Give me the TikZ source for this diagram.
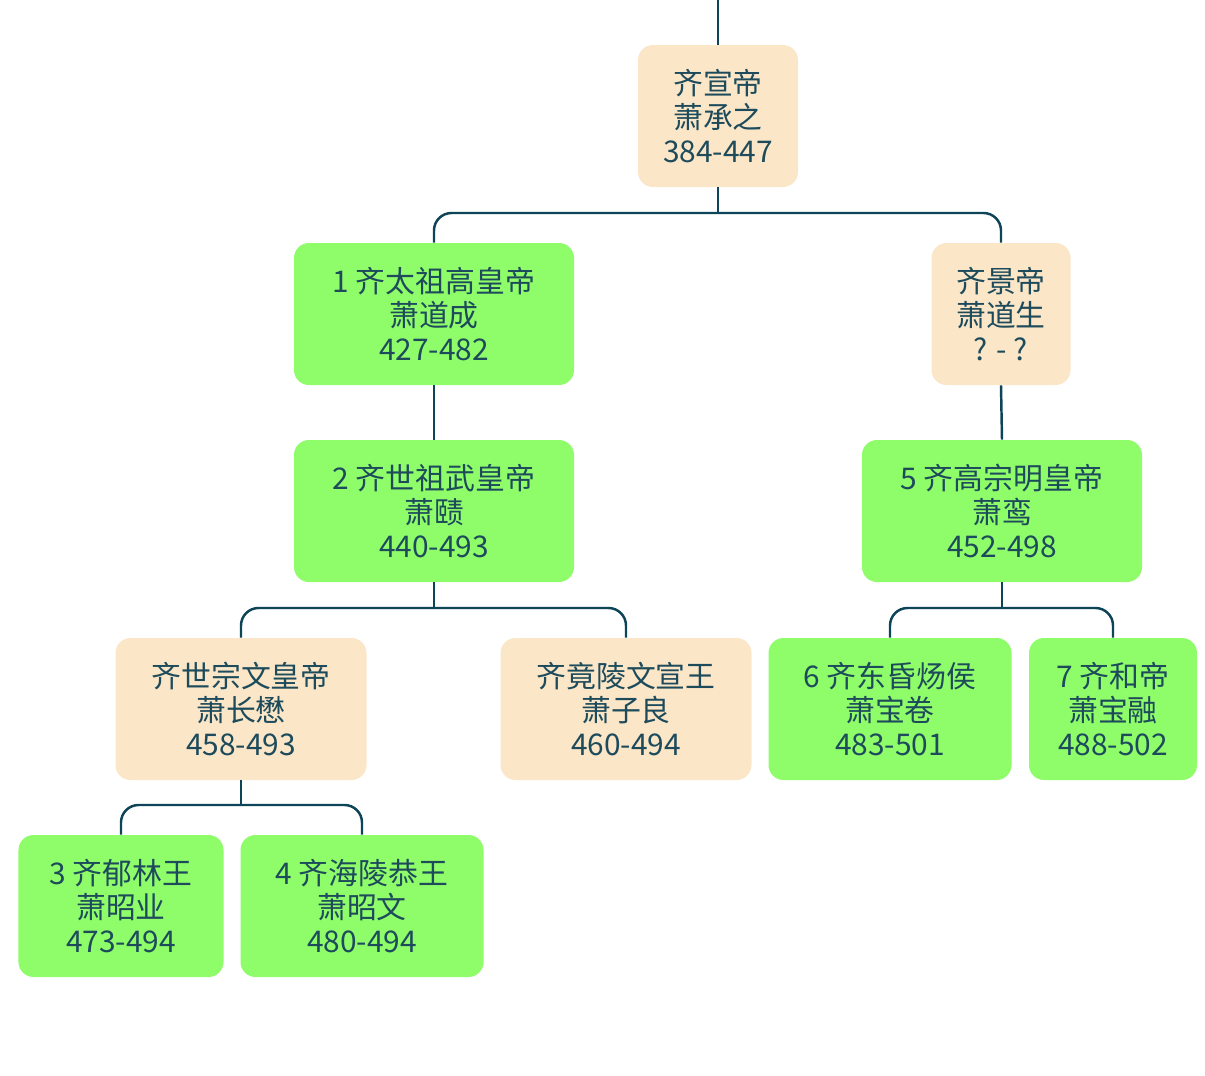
\documentclass[tikz,border=0pt]{standalone}
\usepackage{fontspec}
\setmainfont{Noto Sans CJK SC}
\usetikzlibrary{positioning}
\definecolor{linecol}{HTML}{0E4458}
\definecolor{textcol}{HTML}{1D4B5B}
\definecolor{kinfill}{HTML}{FBE6C8}
\definecolor{emperorfill}{HTML}{8FFC6A}
\tikzset{
  box/.style={rounded corners=0.3cm, align=center, text=textcol,
    font=\fontsize{17}{19.5}\selectfont, minimum height=2.84cm, inner sep=0pt},
  kin/.style={box, fill=kinfill},
  emperor/.style={box, fill=emperorfill},
  link/.style={draw=linecol, line width=1.4pt, rounded corners=0.35cm},
}
\begin{document}
\begin{tikzpicture}
%
\useasboundingbox (0,0) rectangle (24.1,-21.5);
%
\node[kin, minimum width=3.2cm] (xuan) at (14.36,-2.32) {齐宣帝\\萧承之\\384-447};
\node[emperor, minimum width=5.6cm] (gao) at (8.68,-6.28) {1 齐太祖高皇帝\\萧道成\\427-482};
\node[kin, minimum width=2.78cm] (jing) at (20.02,-6.28) {齐景帝\\萧道生\\? - ?};
\node[emperor, minimum width=5.6cm] (wu) at (8.68,-10.22) {2 齐世祖武皇帝\\萧赜\\440-493};
\node[emperor, minimum width=5.6cm] (ming) at (20.04,-10.22) {5 齐高宗明皇帝\\萧鸾\\452-498};
\node[kin, minimum width=5.02cm] (wenhui) at (4.82,-14.18) {齐世宗文皇帝\\萧长懋\\458-493};
\node[kin, minimum width=5.02cm] (ziliang) at (12.52,-14.18) {齐竟陵文宣王\\萧子良\\460-494};
\node[emperor, minimum width=4.86cm] (donghun) at (17.8,-14.18) {6 齐东昏炀侯\\萧宝卷\\483-501};
\node[emperor, minimum width=3.36cm] (he) at (22.26,-14.18) {7 齐和帝\\萧宝融\\488-502};
\node[emperor, minimum width=4.1cm] (yulin) at (2.42,-18.12) {3 齐郁林王\\萧昭业\\473-494};
\node[emperor, minimum width=4.86cm] (hailing) at (7.24,-18.12) {4 齐海陵恭王\\萧昭文\\480-494};
%
\coordinate (root) at (14.36,0);
\draw[link] (root) -- (xuan.north);
%
\draw[link] (xuan.south) -- (xuan.south |- 0,-4.26);
\foreach \c in {gao,jing}
  \draw[link] (\c.north) -- (\c.north |- 0,-4.26) -- (xuan.south |- 0,-4.26);
\draw[link] (gao.south) -- (wu.north);
\draw[link] (jing.south) -- (ming.north);
%
\draw[link] (wu.south) -- (wu.south |- 0,-12.16);
\foreach \c in {wenhui,ziliang}
  \draw[link] (\c.north) -- (\c.north |- 0,-12.16) -- (wu.south |- 0,-12.16);
\draw[link] (ming.south) -- (ming.south |- 0,-12.16);
\foreach \c in {donghun,he}
  \draw[link] (\c.north) -- (\c.north |- 0,-12.16) -- (ming.south |- 0,-12.16);
%
\draw[link] (wenhui.south) -- (wenhui.south |- 0,-16.1);
\foreach \c in {yulin,hailing}
  \draw[link] (\c.north) -- (\c.north |- 0,-16.1) -- (wenhui.south |- 0,-16.1);
%
\end{tikzpicture}
\end{document}
